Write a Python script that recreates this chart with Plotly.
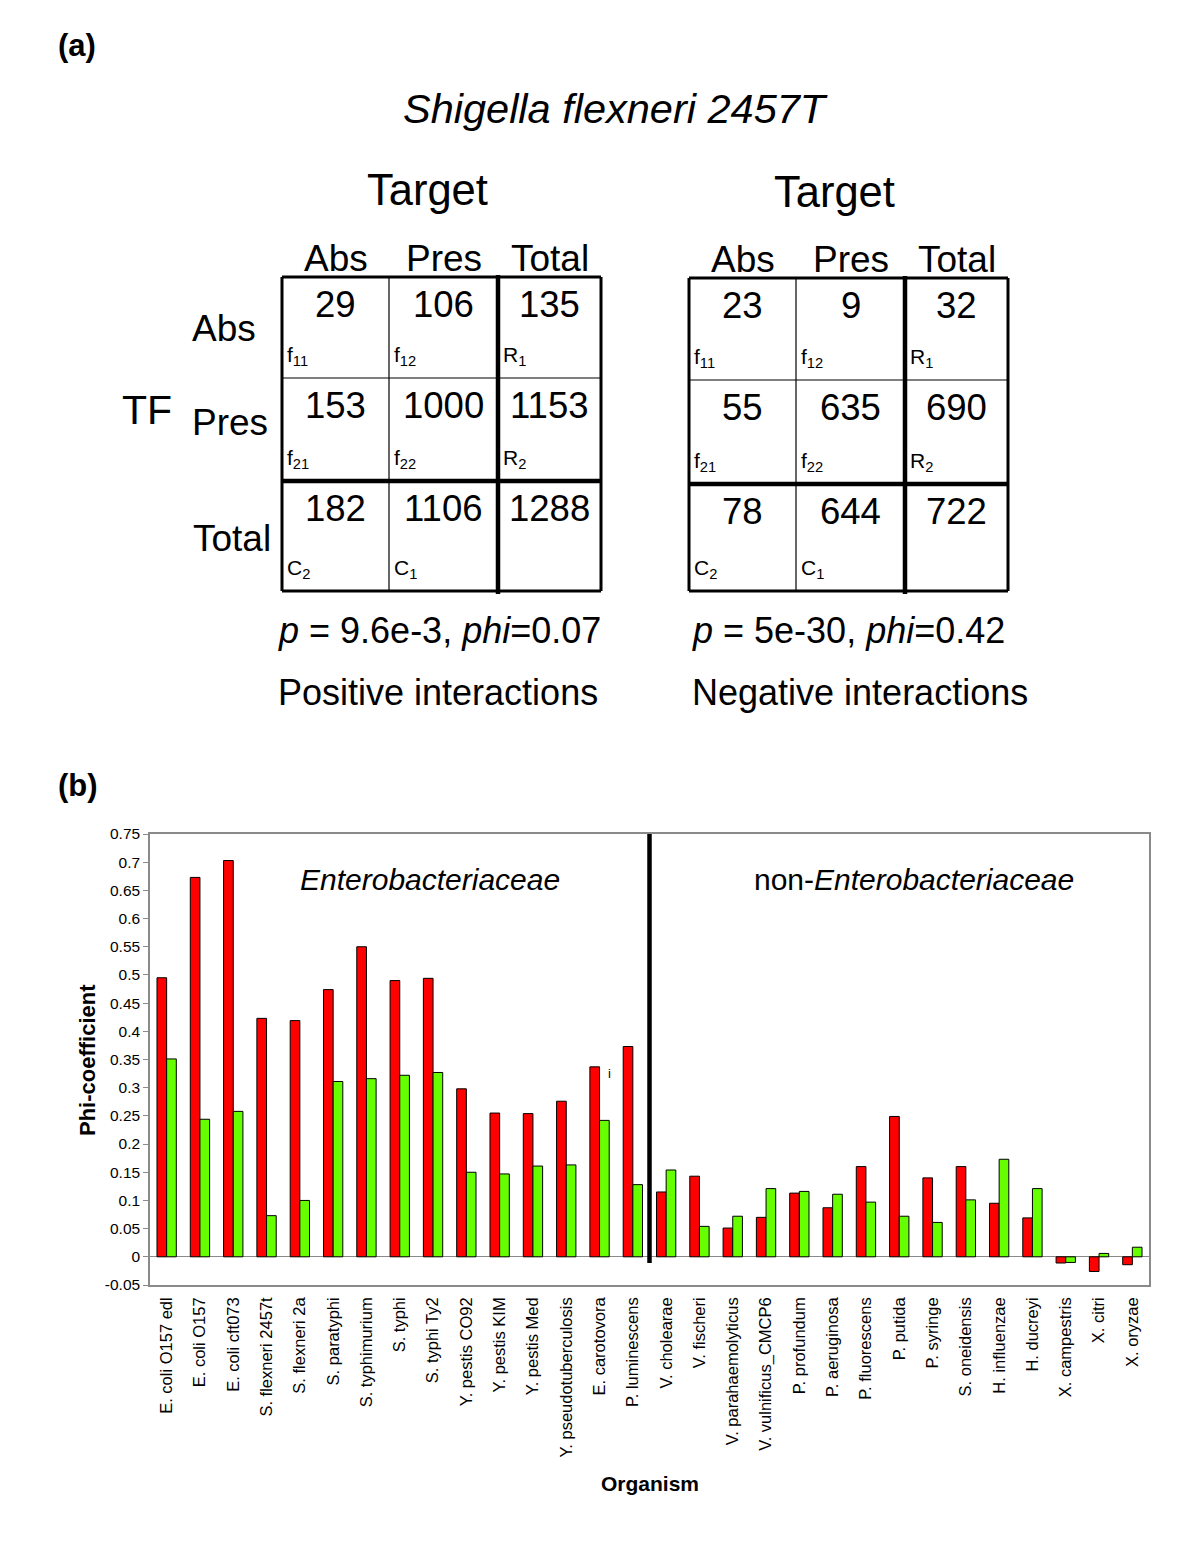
import plotly.graph_objects as go

# ---------------- data ----------------
organisms = [
    "E. coli O157 edl", "E. coli O157", "E. coli cft073", "S. flexneri 2457t",
    "S. flexneri 2a", "S. paratyphi", "S. typhimurium", "S. typhi", "S. typhi Ty2",
    "Y. pestis CO92", "Y. pestis KIM", "Y. pestis Med", "Y. pseudotuberculosis",
    "E. carotovora", "P. luminescens",
    "V. cholearae", "V. fischeri", "V. parahaemolyticus", "V. vulnificus_CMCP6",
    "P. profundum", "P. aeruginosa", "P. fluorescens", "P. putida", "P. syringe",
    "S. oneidensis", "H. influenzae", "H. ducreyi", "X. campestris", "X. citri",
    "X. oryzae",
]
phi_red = [0.495, 0.673, 0.703, 0.423, 0.419, 0.474, 0.550, 0.490, 0.494,
           0.298, 0.255, 0.254, 0.276, 0.337, 0.373,
           0.115, 0.143, 0.051, 0.070, 0.113, 0.087, 0.160, 0.249, 0.140,
           0.160, 0.095, 0.069, -0.011, -0.026, -0.014]
phi_green = [0.351, 0.244, 0.258, 0.073, 0.100, 0.311, 0.316, 0.322, 0.327,
             0.150, 0.147, 0.161, 0.163, 0.242, 0.128,
             0.154, 0.054, 0.072, 0.121, 0.116, 0.111, 0.097, 0.072, 0.061,
             0.101, 0.173, 0.121, -0.010, 0.006, 0.017]
n_entero = 15

ytick_vals = [0.75, 0.7, 0.65, 0.6, 0.55, 0.5, 0.45, 0.4, 0.35, 0.3, 0.25,
              0.2, 0.15, 0.1, 0.05, 0, -0.05]
ytick_text = ["0.75", "0.7", "0.65", "0.6", "0.55", "0.5", "0.45", "0.4", "0.35",
              "0.3", "0.25", "0.2", "0.15", "0.1", "0.05", "0", "-0.05"]

# contingency tables (panel a)
col_heads = ["Abs", "Pres", "Total"]
row_heads = ["Abs", "Pres", "Total"]
pos_counts = [[29, 106, 135], [153, 1000, 1153], [182, 1106, 1288]]
neg_counts = [[23, 9, 32], [55, 635, 690], [78, 644, 722]]
cell_tags = [["f<sub>11</sub>", "f<sub>12</sub>", "R<sub>1</sub>"],
             ["f<sub>21</sub>", "f<sub>22</sub>", "R<sub>2</sub>"],
             ["C<sub>2</sub>", "C<sub>1</sub>", ""]]
pos_stats = "<i>p</i> = 9.6e-3, <i>phi</i>=0.07"
neg_stats = "<i>p</i> = 5e-30, <i>phi</i>=0.42"

# ---------------- helpers ----------------
OFF = 8                      # page body margin of the html page
W, H = 1200 - 2 * OFF, 1545 - 2 * OFF
FONT = "Liberation Sans, Arial, Helvetica, sans-serif"


def px(x):
    return (x - OFF) / W


def py(y):
    return 1 - (y - OFF) / H


annotations = []
shapes = []


def text(x, y, s, size, bold=False, italic=False, xanchor="center", yanchor="middle", angle=0):
    if bold:
        s = "<b>" + s + "</b>"
    if italic:
        s = "<i>" + s + "</i>"
    annotations.append(dict(x=px(x), y=py(y), xref="paper", yref="paper", text=s,
                            showarrow=False, xanchor=xanchor, yanchor=yanchor,
                            textangle=angle,
                            font=dict(family=FONT, size=size, color="black")))


def line(x0, y0, x1, y1, w):
    shapes.append(dict(type="line", xref="paper", yref="paper",
                       x0=px(x0), y0=py(y0), x1=px(x1), y1=py(y1),
                       line=dict(color="black", width=w)))


def draw_table(cols, rows, counts, target_y, head_y, stats, label, stats_x, label_x):
    # grid
    line(cols[0], rows[0], cols[3], rows[0], 3)
    line(cols[0], rows[3], cols[3], rows[3], 3)
    line(cols[0], rows[0], cols[0], rows[3], 3)
    line(cols[3], rows[0], cols[3], rows[3], 3)
    line(cols[1], rows[0], cols[1], rows[3], 1.2)
    line(cols[0], rows[1], cols[3], rows[1], 1.2)
    line(cols[2], rows[0] - 2, cols[2], rows[3] + 3, 4.5)
    line(cols[0], rows[2], cols[3], rows[2], 4.5)
    cx = (cols[0] + cols[3]) / 2
    text(cx - 14, target_y, "Target", 43.5)
    for j, h in enumerate(col_heads):
        text((cols[j] + cols[j + 1]) / 2, head_y, h, 37)
    for i in range(3):
        for j in range(3):
            text((cols[j] + cols[j + 1]) / 2, rows[i] + 27, str(counts[i][j]), 36.5)
            if cell_tags[i][j]:
                text(cols[j] + 3, rows[i + 1] - 22, cell_tags[i][j], 21, xanchor="left")
    text(stats_x, 630, stats, 36)
    text(label_x, 693, label, 36)


# ---------------- panel a ----------------
text(56, 45, "(a)", 31, bold=True, xanchor="left")
text(615, 108, "Shigella flexneri 2457T", 41.5, italic=True)
text(147, 410, "TF", 41)
text(224, 328, "Abs", 37)
text(230, 422, "Pres", 37)
text(232, 538, "Total", 37)

draw_table([282, 389, 498, 601], [277, 378, 481, 591], pos_counts, 190, 258,
           pos_stats, "Positive interactions", 439, 438)
draw_table([689, 796, 905, 1008], [278, 380, 484, 591], neg_counts, 192, 259,
           neg_stats, "Negative interactions", 848, 860)

# ---------------- panel b ----------------
text(56, 785, "(b)", 31, bold=True, xanchor="left")
text(430, 879, "Enterobacteriaceae", 30, italic=True)
text(914, 879, "non-<i>Enterobacteriaceae</i>", 30)
text(87, 1060, "Phi-coefficient", 22, bold=True, angle=-90)
text(650, 1483, "Organism", 21, bold=True)

fig = go.Figure()
fig.add_trace(go.Bar(x=organisms, y=phi_red, name="red",
                     marker=dict(color="#ff0000", line=dict(color="black", width=1))))
fig.add_trace(go.Bar(x=organisms, y=phi_green, name="green",
                     marker=dict(color="#66ff00", line=dict(color="black", width=1))))

# divider between the two organism groups
shapes.append(dict(type="line", xref="x", yref="y", x0=n_entero - 0.5, x1=n_entero - 0.5,
                   y0=-0.011, y1=0.75, line=dict(color="black", width=4.5)))

# small "i" marker next to E. carotovora
annotations.append(dict(x=organisms[13], y=0.326, xref="x", yref="y", text="i",
                        showarrow=False, xshift=10,
                        font=dict(family=FONT, size=13, color="black")))

fig.update_layout(
    width=W, height=H,
    margin=dict(l=0, r=0, t=0, b=0),
    paper_bgcolor="white", plot_bgcolor="white",
    showlegend=False,
    barmode="group", bargap=0.42, bargroupgap=0,
    font=dict(family=FONT, color="black"),
    annotations=annotations,
    shapes=shapes,
    xaxis=dict(domain=[px(150), px(1149)], type="category",
               tickangle=-90, tickfont=dict(size=16.5, family=FONT),
               showline=True, linecolor="#8a8a8a", linewidth=1.5, mirror=True,
               ticks="", showgrid=False, ticklabelstandoff=4, automargin=False),
    yaxis=dict(domain=[py(1285), py(834)], range=[-0.05, 0.75],
               tickvals=ytick_vals, ticktext=ytick_text,
               tickfont=dict(size=15.5, family=FONT),
               showline=True, linecolor="#8a8a8a", linewidth=1.5, mirror=True,
               ticks="outside", ticklen=5, tickcolor="#8a8a8a",
               showgrid=False, zeroline=True, zerolinecolor="#8a8a8a",
               zerolinewidth=1.2, automargin=False),
)

fig.write_html("out.html")
